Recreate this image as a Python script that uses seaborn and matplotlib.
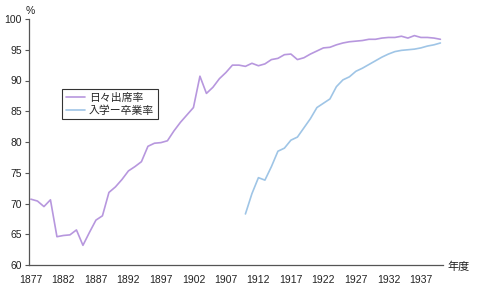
import matplotlib
matplotlib.use("Agg")
import matplotlib.pyplot as plt
import seaborn as sns
import pandas as pd
from matplotlib.ticker import MultipleLocator, FixedLocator

years_attend = list(range(1877, 1941))
attend = [70.7, 70.4, 69.5, 70.6, 64.6, 64.8, 64.9, 65.7, 63.2, 65.3,
          67.3, 68.0, 71.8, 72.7, 73.9, 75.3, 76.0, 76.8, 79.3, 79.8,
          79.9, 80.2, 81.8, 83.2, 84.4, 85.6, 90.7, 87.9, 88.9, 90.3,
          91.3, 92.5, 92.5, 92.3, 92.8, 92.4, 92.7, 93.4, 93.6, 94.2,
          94.3, 93.4, 93.7, 94.3, 94.8, 95.3, 95.4, 95.8, 96.1, 96.3,
          96.4, 96.5, 96.7, 96.7, 96.9, 97.0, 97.0, 97.2, 96.9, 97.3,
          97.0, 97.0, 96.9, 96.7]

years_grad = list(range(1910, 1941))
grad = [68.3, 71.6, 74.2, 73.8, 76.0, 78.5, 79.0, 80.3, 80.8, 82.3,
        83.8, 85.6, 86.3, 87.0, 89.0, 90.1, 90.6, 91.5, 92.0, 92.6,
        93.2, 93.8, 94.3, 94.7, 94.9, 95.0, 95.1, 95.3, 95.6, 95.8,
        96.1]

series_names = ["日々出席率", "入学ー卒業率"]
tick_years = list(range(1877, 1941, 5))

df = pd.concat([
    pd.DataFrame({"year": years_attend, "rate": attend, "series": series_names[0]}),
    pd.DataFrame({"year": years_grad, "rate": grad, "series": series_names[1]}),
])

sns.set_theme(style="white")
plt.rcParams["font.family"] = ["Liberation Sans", "Noto Sans CJK JP", "DejaVu Sans"]

fig = plt.figure(figsize=(4.8, 2.94), dpi=100)
ax = fig.add_axes([29/480, 29/294, 414/480, 246/294])

palette = {series_names[0]: "#b797de", series_names[1]: "#9fc5e6"}
sns.lineplot(data=df, x="year", y="rate", hue="series", palette=palette,
             linewidth=1.2, ax=ax)

ax.set_xlim(1876.7, 1940.4)
ax.set_ylim(60, 100)
ax.yaxis.set_major_locator(MultipleLocator(5))
ax.set_xticks(tick_years)
ax.set_xticklabels([str(y) for y in tick_years])
ax.xaxis.set_minor_locator(FixedLocator(list(range(1887, 1941, 10))))
ax.tick_params(axis="x", which="major", length=0, labelsize=7.5, pad=7, colors="#222222")
ax.tick_params(axis="x", which="minor", direction="in", length=3, width=0.8, color="#555555")
ax.tick_params(axis="y", which="major", direction="out", length=3, width=0.8,
               labelsize=7.5, pad=2, colors="#222222", left=True)
ax.tick_params(axis="y", colors="#555555", labelcolor="#222222")

for s in ["top", "right"]:
    ax.spines[s].set_visible(False)
for s in ["left", "bottom"]:
    ax.spines[s].set_color("#555555")
    ax.spines[s].set_linewidth(0.9)

ax.set_xlabel("")
ax.set_ylabel("")

fig.text(30/480, 1 - 11/294, "%", fontsize=7.5, ha="center", va="center", color="#222222")
fig.text(447/480, 1 - 267/294, "年度", fontsize=8, ha="left", va="center",
         family=["Noto Sans CJK JP"], color="#222222")

leg = ax.legend(loc="upper left", bbox_to_anchor=(0.08, 0.715), borderaxespad=0,
                frameon=True, fancybox=False, edgecolor="black",
                handlelength=1.8, handletextpad=0.3, borderpad=0.35, labelspacing=0.2,
                prop={"family": ["Noto Sans CJK JP"], "size": 7.8})
leg.get_frame().set_linewidth(0.8)
leg.set_title(None)

fig.savefig("out.png", dpi=100, facecolor="white")
